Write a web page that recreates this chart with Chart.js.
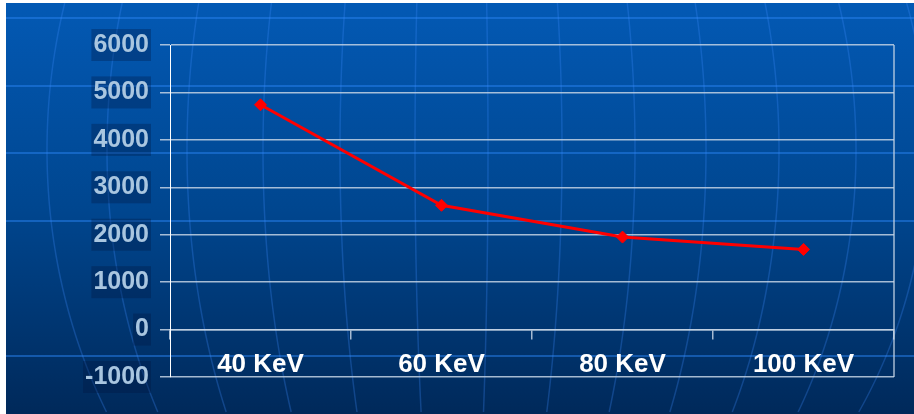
<!DOCTYPE html>
<html>
<head>
<meta charset="utf-8">
<script src="https://cdn.jsdelivr.net/npm/chart.js@4/dist/chart.umd.min.js"></script>
<style>
    html, body { margin: 0; padding: 0; background: #ffffff; }
    #wrap { position: absolute; left: 6px; top: 3px; width: 908px; height: 411px; }
</style>
</head>
<body>
<div id="wrap"><canvas id="energyChart"></canvas></div>
<script>
// energy levels and measured values
const energies = ['40 KeV', '60 KeV', '80 KeV', '100 KeV'];
const counts = [4740, 2620, 1950, 1690];
const yTicks = [-1000, 0, 1000, 2000, 3000, 4000, 5000, 6000];

const gridColor = 'rgba(195, 210, 228, 0.85)';
const labelFont = { family: "'Liberation Sans', Arial, sans-serif", size: 25, weight: 'bold' };

// globe backdrop: gradient, light latitude bands and curved meridians
const backdrop = {
    id: 'backdrop',
    beforeDraw: function (chart) {
        const ctx = chart.ctx;
        const w = chart.width, h = chart.height;
        ctx.save();
        const g = ctx.createLinearGradient(0, 0, 0, h);
        g.addColorStop(0, '#0359b4');
        g.addColorStop(0.5, '#00468f');
        g.addColorStop(1, '#00295a');
        ctx.fillStyle = g;
        ctx.fillRect(0, 0, w, h);

        ctx.strokeStyle = 'rgba(40, 130, 240, 0.5)';
        ctx.lineWidth = 2;
        [15, 83, 150, 218, 353].forEach(function (y) {
            ctx.beginPath();
            ctx.moveTo(0, y);
            ctx.lineTo(w, y);
            ctx.stroke();
        });

        ctx.strokeStyle = 'rgba(60, 140, 255, 0.28)';
        ctx.lineWidth = 1.5;
        const cx = 451, cy = 147, r = 505;
        [-410, -350, -270, -194, -117, -42, 31, 105, 178, 249, 322, 399, 470].forEach(function (d) {
            ctx.beginPath();
            for (let y = -3; y <= h; y += 4) {
                const t = (y - cy) / r;
                const x = cx + d * Math.sqrt(Math.max(0, 1 - t * t));
                if (y === -3) ctx.moveTo(x, y); else ctx.lineTo(x, y);
            }
            ctx.stroke();
        });
        ctx.restore();
    },
    beforeDatasetsDraw: function (chart) {
        // right edge of the plot frame
        const a = chart.chartArea;
        const ctx = chart.ctx;
        ctx.save();
        ctx.strokeStyle = gridColor;
        ctx.lineWidth = 1.5;
        ctx.beginPath();
        ctx.moveTo(a.right, a.top);
        ctx.lineTo(a.right, a.bottom);
        ctx.stroke();
        ctx.restore();
    }
};

new Chart(document.getElementById('energyChart'), {
    type: 'line',
    data: {
        labels: energies,
        datasets: [{
            data: counts,
            borderColor: '#ff0000',
            backgroundColor: '#ff0000',
            borderWidth: 3,
            pointStyle: 'rectRot',
            pointRadius: 6,
            pointBorderWidth: 1,
            tension: 0
        }]
    },
    options: {
        responsive: true,
        maintainAspectRatio: false,
        animation: false,
        layout: { padding: { top: 42, right: 20, bottom: 37, left: 0 } },
        plugins: {
            legend: { display: false },
            tooltip: { enabled: false }
        },
        scales: {
            x: {
                position: { y: 0 },
                offset: true,
                grid: { offset: true, drawOnChartArea: false, drawTicks: true, tickLength: 9, color: gridColor, lineWidth: 1.5 },
                border: { color: gridColor, width: 1.5 },
                ticks: { color: '#ffffff', font: { family: labelFont.family, size: 26, weight: 'bold' }, padding: 11, maxRotation: 0 }
            },
            y: {
                min: yTicks[0],
                max: yTicks[yTicks.length - 1],
                afterFit: function (scale) { scale.width = 164; },
                afterBuildTicks: function (scale) {
                    scale.ticks = yTicks.map(function (v) { return { value: v }; });
                },
                grid: { color: gridColor, lineWidth: 1.5, tickLength: 10 },
                border: { color: '#ffffff', width: 1 },
                ticks: {
                    color: '#a9c6e0',
                    font: labelFont,
                    padding: 11,
                    callback: function (value) { return String(value); },
                    showLabelBackdrop: true,
                    backdropColor: 'rgba(0, 20, 60, 0.3)',
                    backdropPadding: { x: 2, y: 1 }
                }
            }
        }
    },
    plugins: [backdrop]
});
</script>
</body>
</html>
